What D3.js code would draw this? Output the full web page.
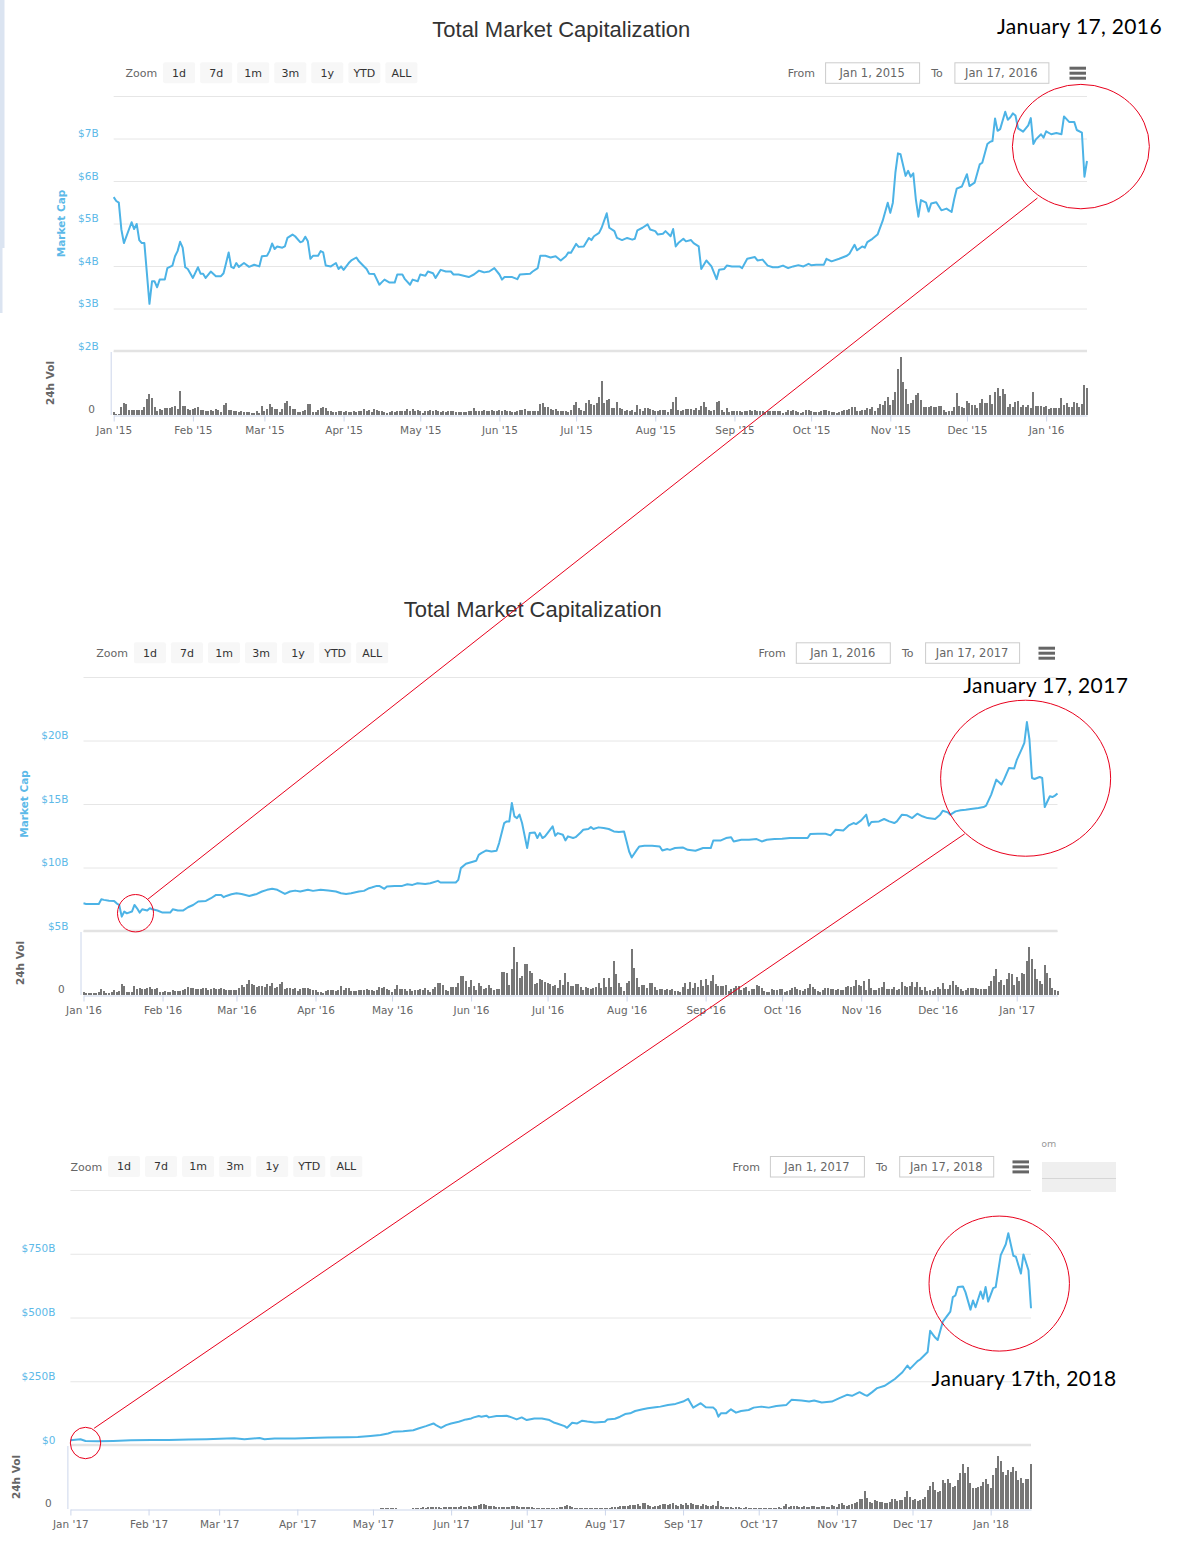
<!DOCTYPE html>
<html>
<head>
<meta charset="utf-8">
<script src="https://cdn.jsdelivr.net/npm/d3@7"></script>
<style>
  body { margin: 0; background: #fff; }
  svg { display: block; }
</style>
</head>
<body>
<svg id="chart" width="1178" height="1553"></svg>
<script>
// ---- data: [day offset from start, market cap] ----
const cap2015 = [[0,5.62],[1,5.53],[2,5.49],[3,4.86],[4,4.54],[7,5.03],[8,4.87],[9,4.99],[10,4.61],[11,4.54],[12,4.54],[14,3.11],[15,3.64],[16,3.64],[17,3.50],[18,3.68],[20,3.68],[21,3.95],[23,4.01],[24,4.23],[25,4.35],[26,4.57],[27,4.43],[28,3.97],[29,3.93],[31,3.72],[33,3.97],[34,3.82],[35,3.82],[36,3.72],[38,3.87],[40,3.76],[42,3.76],[43,3.83],[44,4.07],[45,4.32],[46,3.98],[47,3.95],[48,4.07],[49,3.98],[51,4.07],[53,3.98],[55,4.03],[57,3.99],[58,4.23],[60,4.24],[61,4.35],[62,4.53],[63,4.40],[64,4.46],[66,4.43],[67,4.46],[68,4.66],[70,4.74],[71,4.70],[73,4.56],[74,4.58],[75,4.69],[76,4.58],[77,4.17],[78,4.24],[80,4.24],[81,4.35],[82,4.32],[83,4.01],[85,3.99],[87,4.07],[88,3.93],[89,3.99],[90,3.91],[92,4.07],[93,4.13],[95,4.20],[96,4.11],[98,3.99],[99,3.93],[100,3.82],[102,3.81],[104,3.56],[105,3.62],[106,3.68],[108,3.61],[110,3.61],[111,3.80],[113,3.80],[114,3.69],[116,3.56],[117,3.68],[119,3.64],[120,3.80],[122,3.77],[123,3.87],[125,3.83],[126,3.72],[128,3.91],[130,3.87],[132,3.87],[133,3.80],[135,3.80],[137,3.77],[139,3.74],[141,3.80],[143,3.89],[144,3.87],[145,3.85],[147,3.87],[149,3.95],[151,3.80],[152,3.68],[153,3.74],[156,3.74],[158,3.69],[159,3.80],[163,3.82],[164,3.87],[166,3.95],[167,4.24],[169,4.24],[171,4.20],[173,4.23],[175,4.13],[177,4.23],[178,4.32],[179,4.31],[181,4.52],[182,4.45],[184,4.46],[186,4.66],[187,4.61],[188,4.70],[190,4.78],[191,4.90],[193,5.24],[194,4.90],[196,4.82],[197,4.66],[199,4.61],[201,4.66],[203,4.62],[204,4.64],[205,4.84],[207,4.90],[209,4.98],[210,4.86],[212,4.82],[213,4.74],[215,4.76],[216,4.82],[218,4.70],[219,4.87],[220,4.46],[221,4.54],[223,4.64],[224,4.58],[226,4.61],[227,4.54],[229,4.46],[230,3.93],[232,4.13],[234,3.99],[236,3.69],[237,3.91],[239,3.93],[240,4.01],[242,3.99],[245,3.99],[246,3.95],[248,4.17],[251,4.21],[252,4.13],[254,4.15],[256,4.01],[258,3.97],[260,3.97],[262,4.01],[264,3.95],[266,3.99],[268,4.02],[270,3.99],[272,4.05],[273,4.02],[275,4.03],[278,4.03],[279,4.17],[281,4.11],[284,4.17],[287,4.24],[288,4.29],[290,4.50],[291,4.37],[293,4.46],[294,4.43],[295,4.56],[297,4.64],[299,4.74],[301,5.06],[303,5.49],[304,5.25],[305,5.49],[306,6.20],[307,6.65],[308,6.63],[310,6.12],[311,6.24],[312,6.10],[313,6.18],[314,5.57],[315,5.16],[316,5.55],[318,5.49],[319,5.28],[320,5.47],[322,5.50],[324,5.31],[326,5.35],[328,5.27],[329,5.57],[330,5.82],[332,5.87],[334,6.16],[335,5.88],[337,5.96],[339,6.39],[340,6.43],[342,6.87],[343,6.92],[344,6.94],[345,7.47],[346,7.18],[347,7.22],[349,7.63],[350,7.44],[351,7.50],[352,7.59],[353,7.54],[354,7.24],[356,7.16],[358,7.31],[359,7.48],[360,6.87],[361,6.98],[363,7.10],[364,7.02],[365,7.17],[367,7.10],[369,7.13],[371,7.10],[372,7.52],[374,7.39],[376,7.39],[377,7.20],[379,7.14],[380,6.10],[381,6.47]];

const cap2016 = [[0,7.18],[1,7.13],[4,7.13],[6,7.13],[7,7.50],[8,7.45],[10,7.39],[12,7.37],[13,7.18],[14,7.05],[15,6.13],[16,6.53],[17,6.39],[19,6.53],[20,7.05],[21,6.79],[22,6.45],[23,6.71],[25,6.61],[26,6.79],[27,6.71],[29,6.61],[31,6.45],[34,6.45],[35,6.71],[37,6.61],[39,6.61],[41,6.87],[43,7.05],[45,7.32],[48,7.37],[50,7.58],[52,7.84],[54,7.84],[55,7.66],[56,7.76],[58,7.89],[60,7.97],[62,7.92],[65,7.76],[68,7.92],[70,8.11],[72,8.24],[74,8.32],[76,8.24],[79,7.92],[81,8.11],[83,8.18],[85,8.11],[88,8.24],[90,8.16],[93,8.24],[96,8.18],[99,8.11],[101,7.97],[103,7.92],[105,7.97],[108,8.11],[110,8.16],[112,8.37],[113,8.42],[115,8.55],[116,8.55],[118,8.32],[119,8.50],[122,8.55],[125,8.55],[127,8.68],[129,8.63],[131,8.76],[134,8.71],[136,8.76],[139,8.95],[140,8.82],[143,8.82],[146,8.82],[147,9.03],[148,9.95],[150,10.29],[153,10.47],[154,10.53],[155,11.00],[156,11.13],[158,11.34],[160,11.26],[162,11.32],[163,11.92],[165,13.50],[166,13.63],[167,13.63],[168,15.08],[169,14.03],[170,13.89],[171,14.16],[172,13.50],[174,11.53],[175,12.71],[177,12.76],[178,12.32],[179,12.71],[180,12.32],[181,12.45],[182,12.71],[184,13.24],[185,12.50],[186,12.71],[188,12.58],[189,12.13],[190,12.45],[192,12.32],[193,12.39],[195,12.76],[196,12.97],[198,13.03],[199,13.18],[200,13.03],[202,13.16],[204,13.11],[206,13.03],[208,12.84],[210,12.79],[212,12.84],[213,12.05],[214,11.26],[215,10.79],[217,11.39],[218,11.66],[220,11.71],[223,11.71],[226,11.66],[227,11.34],[229,11.45],[230,11.39],[232,11.53],[235,11.58],[237,11.39],[240,11.32],[243,11.53],[246,11.53],[247,12.13],[250,12.13],[252,12.32],[254,12.39],[255,12.05],[258,12.18],[261,12.18],[264,12.24],[266,12.05],[268,12.18],[271,12.24],[274,12.26],[277,12.32],[280,12.32],[284,12.32],[285,12.63],[288,12.66],[291,12.66],[293,12.53],[295,12.97],[298,12.92],[300,13.29],[302,13.50],[303,13.42],[305,13.71],[307,14.16],[308,13.29],[309,13.58],[312,13.63],[314,13.82],[316,13.63],[318,13.50],[319,13.63],[321,14.16],[323,14.11],[325,13.89],[327,14.24],[329,14.03],[331,13.89],[334,13.82],[336,14.16],[337,14.47],[339,14.34],[340,14.16],[342,14.42],[344,14.50],[346,14.55],[348,14.61],[351,14.68],[353,14.76],[354,14.87],[356,15.74],[358,16.92],[360,16.53],[361,16.92],[363,17.84],[365,17.79],[366,18.45],[368,19.34],[369,19.82],[370,21.45],[371,20.08],[372,17.05],[373,16.97],[375,17.13],[376,17.05],[377,14.76],[379,15.61],[380,15.55],[381,15.66],[382,15.82]];

const cap2017 = [[0,18.5],[4,22.4],[6,15.8],[11,14.5],[17,15.8],[24,18.5],[32,19.8],[39,19.8],[47,21.1],[54,22.4],[62,25.1],[65,26.4],[69,22.4],[75,27.7],[77,22.4],[81,25.1],[89,25.1],[95,27.7],[102,29.1],[110,30.4],[114,31.7],[119,35.7],[123,39.6],[126,44.9],[128,51.5],[132,54.1],[136,58.1],[138,64.7],[141,74.0],[144,84.5],[145,77.9],[147,67.4],[149,77.9],[151,84.5],[154,91.1],[156,97.7],[157,100.4],[159,104.3],[160,108.3],[162,113.6],[163,110.9],[165,114.9],[166,108.3],[169,113.6],[171,113.6],[173,114.9],[175,108.3],[177,100.4],[179,108.3],[181,97.7],[184,104.3],[187,104.3],[190,97.7],[192,87.2],[193,84.5],[196,74.0],[197,67.4],[199,87.2],[201,84.5],[203,95.5],[205,92.0],[208,88.5],[212,91.1],[213,100.4],[216,103.0],[218,110.9],[220,121.5],[222,124.1],[224,133.4],[227,140.0],[229,143.9],[232,147.9],[234,150.5],[237,157.2],[240,161.1],[243,170.4],[245,180.9],[246,163.8],[247,146.6],[250,163.8],[252,147.9],[255,146.6],[256,137.3],[257,110.9],[258,124.1],[260,124.1],[262,140.0],[264,126.8],[266,133.4],[269,137.3],[271,146.6],[274,150.5],[277,146.6],[280,153.2],[284,157.2],[286,177.0],[290,174.3],[293,170.4],[295,174.3],[298,166.4],[302,170.4],[305,183.6],[308,196.8],[310,192.8],[313,207.3],[315,196.8],[316,192.8],[318,207.3],[320,223.2],[323,232.4],[325,245.6],[327,258.8],[330,285.3],[332,311.7],[333,298.5],[336,328.8],[337,335.4],[340,364.5],[341,447.7],[343,421.3],[344,412.0],[346,483.4],[347,496.6],[349,523.0],[350,579.8],[351,586.4],[352,619.4],[354,622.0],[355,599.6],[357,530.9],[358,566.6],[359,540.2],[361,602.2],[362,573.2],[363,619.4],[364,562.6],[366,615.4],[367,619.4],[369,744.8],[371,787.1],[372,830.7],[374,742.2],[375,738.2],[377,672.2],[378,747.5],[380,685.4],[381,536.2]];

// ---- daily 24h volume, $M ----
const vol2015 = [
  60,20,20,160,240,220,100,100,100,100,100,100,160,320,420,340,160,80,120,100,140,140,140,160,180,120,480,180,180,120,100,
  120,140,160,100,100,80,80,100,80,120,100,60,200,240,100,100,80,80,60,80,60,60,60,40,40,80,40,180,
  80,120,220,160,120,120,60,120,240,280,180,120,120,60,60,80,100,220,220,60,60,100,140,160,140,80,80,60,60,80,80,
  60,80,60,60,80,60,80,80,120,80,100,60,120,100,80,80,60,40,60,80,60,80,80,80,80,120,80,120,80,100,
  80,40,80,80,100,80,100,80,60,80,60,80,80,80,60,60,60,60,60,80,80,140,80,80,80,100,80,80,100,80,80,
  100,80,100,80,80,60,60,80,100,100,120,80,80,80,80,80,220,240,160,160,120,100,120,80,80,80,80,60,100,200,
  260,140,100,80,240,300,220,200,
  240,360,680,240,300,320,140,140,260,140,120,80,100,80,100,60,200,120,80,140,
  140,120,100,80,80,100,100,100,60,120,260,360,100,80,100,120,120,120,100,140,
  100,180,260,160,100,80,100,260,280,100,60,140,60,80,80,80,80,60,80,80,
  100,80,100,80,80,80,60,80,80,80,80,80,80,40,60,100,80,100,80,60,
  40,60,100,100,80,60,60,60,80,100,100,80,60,60,40,60,80,100,100,120,
  160,160,80,80,100,100,140,120,160,80,140,220,200,280,360,200,300,460,920,1160,
  660,520,220,240,300,400,440,300,160,160,160,180,160,160,180,180,100,60,80,80,
  160,440,180,160,140,280,240,200,200,140,240,320,240,240,400,220,460,540,380,520,
  420,160,220,160,260,280,160,200,160,200,140,460,180,180,180,160,180,120,140,140,
  140,140,340,200,240,160,160,260,240,160,220,600,540
];

const vol2016 = [
  75,50,50,50,50,50,75,150,100,50,50,75,125,75,100,275,225,75,75,75,225,150,175,150,150,175,200,150,150,175,75,
  75,100,75,75,125,100,100,100,125,150,200,175,175,150,150,150,175,175,125,150,175,150,150,175,150,125,125,125,125,
  125,175,250,200,275,375,275,250,200,225,225,200,275,225,300,175,200,275,325,150,175,175,150,175,100,150,175,175,175,150,125,
  125,75,75,50,100,125,125,125,100,125,225,125,175,175,100,100,100,125,125,125,150,125,125,100,125,200,175,200,150,125,
  75,150,250,150,150,150,100,150,100,125,125,150,125,175,125,75,150,200,300,300,250,125,100,200,200,200,300,475,475,350,200,
  375,225,125,300,225,150,175,250,175,125,150,150,575,575,550,250,650,1200,825,425,475,775,775,600,550,275,300,400,375,325,
  300,275,225,250,175,375,250,
  550,325,225,225,275,275,200,125,200,175,150,175,200,300,175,425,200,425,200,850,
  525,300,200,100,300,350,1150,675,425,200,250,250,175,300,300,200,125,150,150,125,
  150,125,150,100,100,75,200,300,150,325,175,300,200,375,225,400,250,350,500,275,
  225,225,225,250,100,150,175,225,225,125,175,200,100,150,150,250,225,175,100,75,
  75,150,125,125,150,150,75,100,125,175,200,150,125,100,150,175,275,200,150,100,
  75,125,175,175,150,150,125,150,125,125,200,225,200,225,375,250,225,350,125,400,
  175,125,125,175,200,325,150,150,150,200,125,150,325,225,200,225,325,200,325,200,
  125,200,100,125,100,150,200,150,300,150,150,250,350,250,200,150,100,125,175,175,
  175,175,150,150,150,150,225,350,475,650,325,375,250,400,550,525,250,450,350,550,
  525,850,1200,900,650,400,350,275,750,550,425,175,125,100
];

const vol2017 = [
  310,290,350,420,460,470,400,380,340,320,300,300,290,280,270,260,250,250,260,270,260,250,240,230,230,240,250,260,250,240,230,
  230,240,250,240,230,240,260,280,300,320,300,280,270,260,250,260,270,280,290,300,310,320,330,340,350,360,370,380,
  400,410,420,430,440,450,440,430,420,430,440,450,460,470,450,440,430,420,410,400,390,400,410,420,430,440,450,460,440,430,420,
  450,440,430,420,430,440,450,460,450,440,430,420,430,440,450,460,470,480,470,460,450,440,450,460,470,480,470,460,450,440,
  450,460,470,1000,1100,1200,1100,1000,1100,1000,480,470,460,480,490,500,1200,1500,1300,1400,1600,1500,1800,2000,2100,1800,1600,1500,1700,1900,2000,
  2000,2200,2500,2400,2600,2300,2500,2800,2400,2600,3500,4500,5000,4800,4200,3000,2800,2600,2500,2400,2300,2500,2400,2200,2800,3200,2600,2300,2100,2000,
  2000,1800,1600,1500,1400,1500,
  1200,1100,1000,1000,1300,1200,1100,2000,2200,3000,4000,3200,2200,1300,1200,1100,1000,1000,700,1000,900,700,900,700,1100,
  1000,1200,1300,2000,2100,2200,3000,2800,3100,3000,4000,3800,4200,5000,3200,6000,5800,4000,3000,2200,3000,3100,4000,5000,4800,4100,5000,6000,4000,3200,5000,
  4000,6000,4200,6000,5000,4000,4000,3000,5000,4000,3000,3200,4000,3000,8000,3200,2200,2000,2300,2000,1500,2000,1600,1500,1400,1600,1500,1300,1400,1500,
  1200,1100,1000,1100,1000,1100,1200,1300,2000,1400,3000,5000,2300,3000,3000,2800,2200,2000,2800,2200,2100,3000,2900,2300,2100,3000,3000,2200,2000,4000,3000,
  2000,5000,6000,4000,3000,4000,5000,6000,7000,10000,10000,18000,11000,7000,6000,9000,8000,7000,7000,6000,6000,7000,10000,10000,8000,9000,9000,12000,18000,12000,
  9000,10000,8000,9000,10000,12000,19000,23000,27000,19000,17000,18000,29000,26000,30000,26000,22000,23000,29000,36000,45000,36000,42000,26000,21000,21000,22000,23000,27000,30000,25000,
  21000,34000,41000,53000,48000,37000,34000,39000,37000,42000,38000,29000,31000,26000,30000,30000,45000
];

// ---- tick values and labels ----
const capTicks2015 = [2, 3, 4, 5, 6, 7];
const capTicks2016 = [5, 10, 15, 20];
const capTicks2017 = [0, 250, 500, 750];
const rangeButtons = ["1d", "7d", "1m", "3m", "1y", "YTD", "ALL"];
const fromLabels = ["Jan 1, 2015", "Jan 1, 2016", "Jan 1, 2017"];
const toLabels = ["Jan 17, 2016", "Jan 17, 2017", "Jan 17, 2018"];
const noteLabels = ["January 17, 2016", "January 17, 2017", "January 17th, 2018"];

// ---- layout ----
const panels = [
  { start: Date.UTC(2015, 0, 1), end: Date.UTC(2016, 0, 17), cap: cap2015, vol: vol2015,
    yDomain: [2, 8], yTicks: capTicks2015, volMax: 1280,
    left: 113.7, right: 1087, top: 96, sep: 351, bottom: 415,
    rowY: 62.3, zoomX: 125.5, fromX: 787.8, menuX: 1069.5,
    title: [561.3, 37.3], capTitleX: 65, volTitleX: 53.5, note: [997, 34.3] },
  { start: Date.UTC(2016, 0, 1), end: Date.UTC(2017, 0, 17), cap: cap2016, vol: vol2016,
    yDomain: [5, 25], yTicks: capTicks2016, volMax: 1600,
    left: 83.5, right: 1057.5, top: 677, sep: 931, bottom: 995,
    rowY: 642.3, zoomX: 96.3, fromX: 758.5, menuX: 1038.5,
    title: [532.7, 617.3], capTitleX: 28, volTitleX: 24, note: [963.3, 693.3] },
  { start: Date.UTC(2017, 0, 1), end: Date.UTC(2018, 0, 17), cap: cap2017, vol: vol2017,
    yDomain: [0, 1000], yTicks: capTicks2017, volMax: 64000,
    left: 70.4, right: 1031, top: 1190, sep: 1445, bottom: 1509,
    rowY: 1156, zoomX: 70.4, fromX: 732.6, menuX: 1012.5,
    title: null, capTitleX: null, volTitleX: 20.3, note: [931.6, 1386] }
];

// circles: panel, day, value, radii
const marks = [
  { panel: 0, day: 378.6, value: 6.81, rx: 68.5, ry: 62.2 },
  { panel: 1, day: 20.4, value: 6.40, rx: 18, ry: 18.7 },
  { panel: 1, day: 369.5, value: 17.03, rx: 85, ry: 78 },
  { panel: 2, day: 368.4, value: 633, rx: 70.2, ry: 67.5 },
  { panel: 2, day: 6, value: 7.8, rx: 15.2, ry: 15.7 }
];
const links = [
  [{ panel: 0, day: 361.6, value: 5.6 }, { panel: 1, day: 25.1, value: 7.48 }],
  [{ panel: 1, day: 345.6, value: 12.65 }, { panel: 2, day: 9.4, value: 65.5 }]
];

const DAY = 864e5;
const FONT = "DejaVu Sans, Verdana, sans-serif";
const LINE = "#4cb3e6", LABEL = "#5cb9e8", GRID = "#e6e6e6", AXIS = "#ccd6eb";

const svg = d3.select("#chart");

// strip of a neighbouring window at the left edge
svg.append("rect").attr("x", 0).attr("y", 0).attr("width", 4.5).attr("height", 248).attr("fill", "#dbe4f1");
svg.append("rect").attr("x", 0).attr("y", 248).attr("width", 2.5).attr("height", 65).attr("fill", "#dbe4f1");

const fmtCap = v => v === 0 ? "$0" : "$" + v + "B";
const scales = panels.map((p, i) => drawPanel(p, i));

function drawPanel(p, i) {
  const g = svg.append("g");
  const x = d3.scaleUtc().domain([p.start, p.end]).range([p.left, p.right]);
  const y = d3.scaleLinear().domain(p.yDomain).range([p.sep, p.top]);
  const yv = d3.scaleLinear().domain([0, p.volMax]).range([p.bottom, p.sep]);
  const at = d => new Date(p.start + d * DAY);

  // title
  if (p.title) {
    g.append("text").attr("x", p.title[0]).attr("y", p.title[1])
      .attr("text-anchor", "middle").attr("fill", "#333")
      .style("font", "22px 'Liberation Sans', Arial, sans-serif")
      .text("Total Market Capitalization");
  }

  // range selector row
  const row = g.append("g").style("font", "11px " + FONT);
  row.append("text").attr("x", p.zoomX).attr("y", p.rowY + 14.6).attr("fill", "#666").text("Zoom");
  const btn = row.selectAll("g.btn").data(rangeButtons).join("g").attr("class", "btn")
    .attr("transform", (d, k) => `translate(${p.zoomX + 37.6 + k * 37.05},${p.rowY})`);
  btn.append("rect").attr("width", 32).attr("height", 21).attr("rx", 2).attr("fill", "#f7f7f7");
  btn.append("text").attr("x", 16).attr("y", 14.4).attr("text-anchor", "middle").attr("fill", "#333").text(d => d);

  row.append("text").attr("x", p.fromX).attr("y", p.rowY + 14.6).attr("fill", "#666").text("From");
  row.append("text").attr("x", p.fromX + 143.4).attr("y", p.rowY + 14.6).attr("fill", "#666").text("To");
  [[p.fromX + 37.3, fromLabels[i]], [p.fromX + 166.6, toLabels[i]]].forEach(([bx, t]) => {
    row.append("rect").attr("x", bx + 0.5).attr("y", p.rowY + 0.5).attr("width", 94).attr("height", 20.5)
      .attr("fill", "#fff").attr("stroke", "#cccccc");
    row.append("text").attr("x", bx + 47).attr("y", p.rowY + 14.6).attr("text-anchor", "middle")
      .attr("fill", "#666").style("font-size", "11.5px").text(t);
  });
  [4.4, 9.4, 14.4].forEach(dy => row.append("rect").attr("x", p.menuX).attr("y", p.rowY + dy)
    .attr("width", 16.5).attr("height", 3).attr("fill", "#666"));

  // gridlines + cap labels
  const yAxis = d3.axisLeft(y).tickValues(p.yTicks.concat([p.yDomain[1]]))
    .tickSize(-(p.right - p.left)).tickFormat(v => v === p.yDomain[1] ? "" : fmtCap(v));
  g.append("g").attr("transform", `translate(${p.left},0)`).call(yAxis)
    .attr("font-family", FONT).attr("font-size", 10.5)
    .call(a => a.select(".domain").remove())
    .call(a => a.selectAll(".tick line").attr("stroke", GRID))
    .call(a => a.selectAll(".tick text").attr("x", -15).attr("y", -2).attr("dy", 0).attr("fill", LABEL));

  // pane separator
  g.append("line").attr("x1", p.left).attr("x2", p.right).attr("y1", p.sep).attr("y2", p.sep)
    .attr("stroke", "#e3e3e3").attr("stroke-width", 2.5);

  // axis titles
  if (p.capTitleX) {
    g.append("text").attr("transform", `translate(${p.capTitleX},${(p.top + p.sep) / 2}) rotate(-90)`)
      .attr("text-anchor", "middle").attr("fill", LABEL)
      .style("font", "bold 10.5px " + FONT).text("Market Cap");
  }
  g.append("text").attr("transform", `translate(${p.volTitleX},${(p.sep + p.bottom) / 2}) rotate(-90)`)
    .attr("text-anchor", "middle").attr("fill", "#666")
    .style("font", "bold 10.5px " + FONT).text("24h Vol");

  // volume bars
  g.append("g").attr("fill", "#777").selectAll("rect").data(p.vol).join("rect")
    .attr("x", (v, k) => Math.round(x(at(k)) - 1))
    .attr("width", 2)
    .attr("y", v => Math.round(yv(v)))
    .attr("height", v => p.bottom - Math.round(yv(v)));

  // volume axis
  g.append("line").attr("x1", p.left - 2.5).attr("x2", p.left - 2.5).attr("y1", p.sep + 1).attr("y2", p.bottom)
    .attr("stroke", AXIS);
  g.append("text").attr("x", p.left - 18.8).attr("y", p.bottom - 2).attr("text-anchor", "end")
    .attr("fill", "#666").style("font", "10.5px " + FONT).text("0");

  // x axis
  const xAxis = d3.axisBottom(x).ticks(d3.utcMonth.every(1)).tickFormat(d3.utcFormat("%b '%y"))
    .tickSize(6).tickSizeOuter(0).tickPadding(5);
  g.append("g").attr("transform", `translate(0,${p.bottom + 0.5})`).call(xAxis)
    .attr("font-family", FONT).attr("font-size", 10.5)
    .call(a => a.select(".domain").attr("stroke", AXIS))
    .call(a => a.selectAll(".tick line").attr("stroke", AXIS))
    .call(a => a.selectAll(".tick text").attr("fill", "#666"));

  // market cap line
  const line = d3.line().x(d => x(at(d[0]))).y(d => y(d[1]));
  g.append("path").datum(p.cap).attr("d", line)
    .attr("fill", "none").attr("stroke", LINE).attr("stroke-width", 2)
    .attr("stroke-linejoin", "round");

  // date note
  g.append("text").attr("x", p.note[0]).attr("y", p.note[1]).attr("fill", "#000")
    .style("font", "21px Lato, 'Open Sans', sans-serif").style("letter-spacing", "0.35px")
    .text(noteLabels[i]);

  return { x, y, at };
}

// annotation circles and connecting lines
const pt = a => { const s = scales[a.panel]; return [s.x(s.at(a.day)), s.y(a.value)]; };
svg.append("g").selectAll("ellipse").data(marks).join("ellipse")
  .attr("cx", d => pt(d)[0]).attr("cy", d => pt(d)[1])
  .attr("rx", d => d.rx).attr("ry", d => d.ry)
  .attr("fill", "none").attr("stroke", "#e8001c").attr("stroke-width", 1);
svg.append("g").selectAll("line").data(links).join("line")
  .attr("x1", d => pt(d[0])[0]).attr("y1", d => pt(d[0])[1])
  .attr("x2", d => pt(d[1])[0]).attr("y2", d => pt(d[1])[1])
  .attr("stroke", "#e8001c").attr("stroke-width", 1);

// leftovers of a neighbouring window near the third chart
svg.append("clipPath").attr("id", "cut").append("rect").attr("x", 1041.5).attr("y", 1130).attr("width", 40).attr("height", 25);
svg.append("text").attr("x", 1036).attr("y", 1147).attr("clip-path", "url(#cut)")
  .attr("fill", "#999").style("font", "9.5px " + FONT).text("com");
svg.append("rect").attr("x", 1042).attr("y", 1162).attr("width", 74).attr("height", 30).attr("fill", "#efefef");
svg.append("line").attr("x1", 1042).attr("x2", 1116).attr("y1", 1178.5).attr("y2", 1178.5).attr("stroke", "#d6d6d6");
</script>
</body>
</html>
